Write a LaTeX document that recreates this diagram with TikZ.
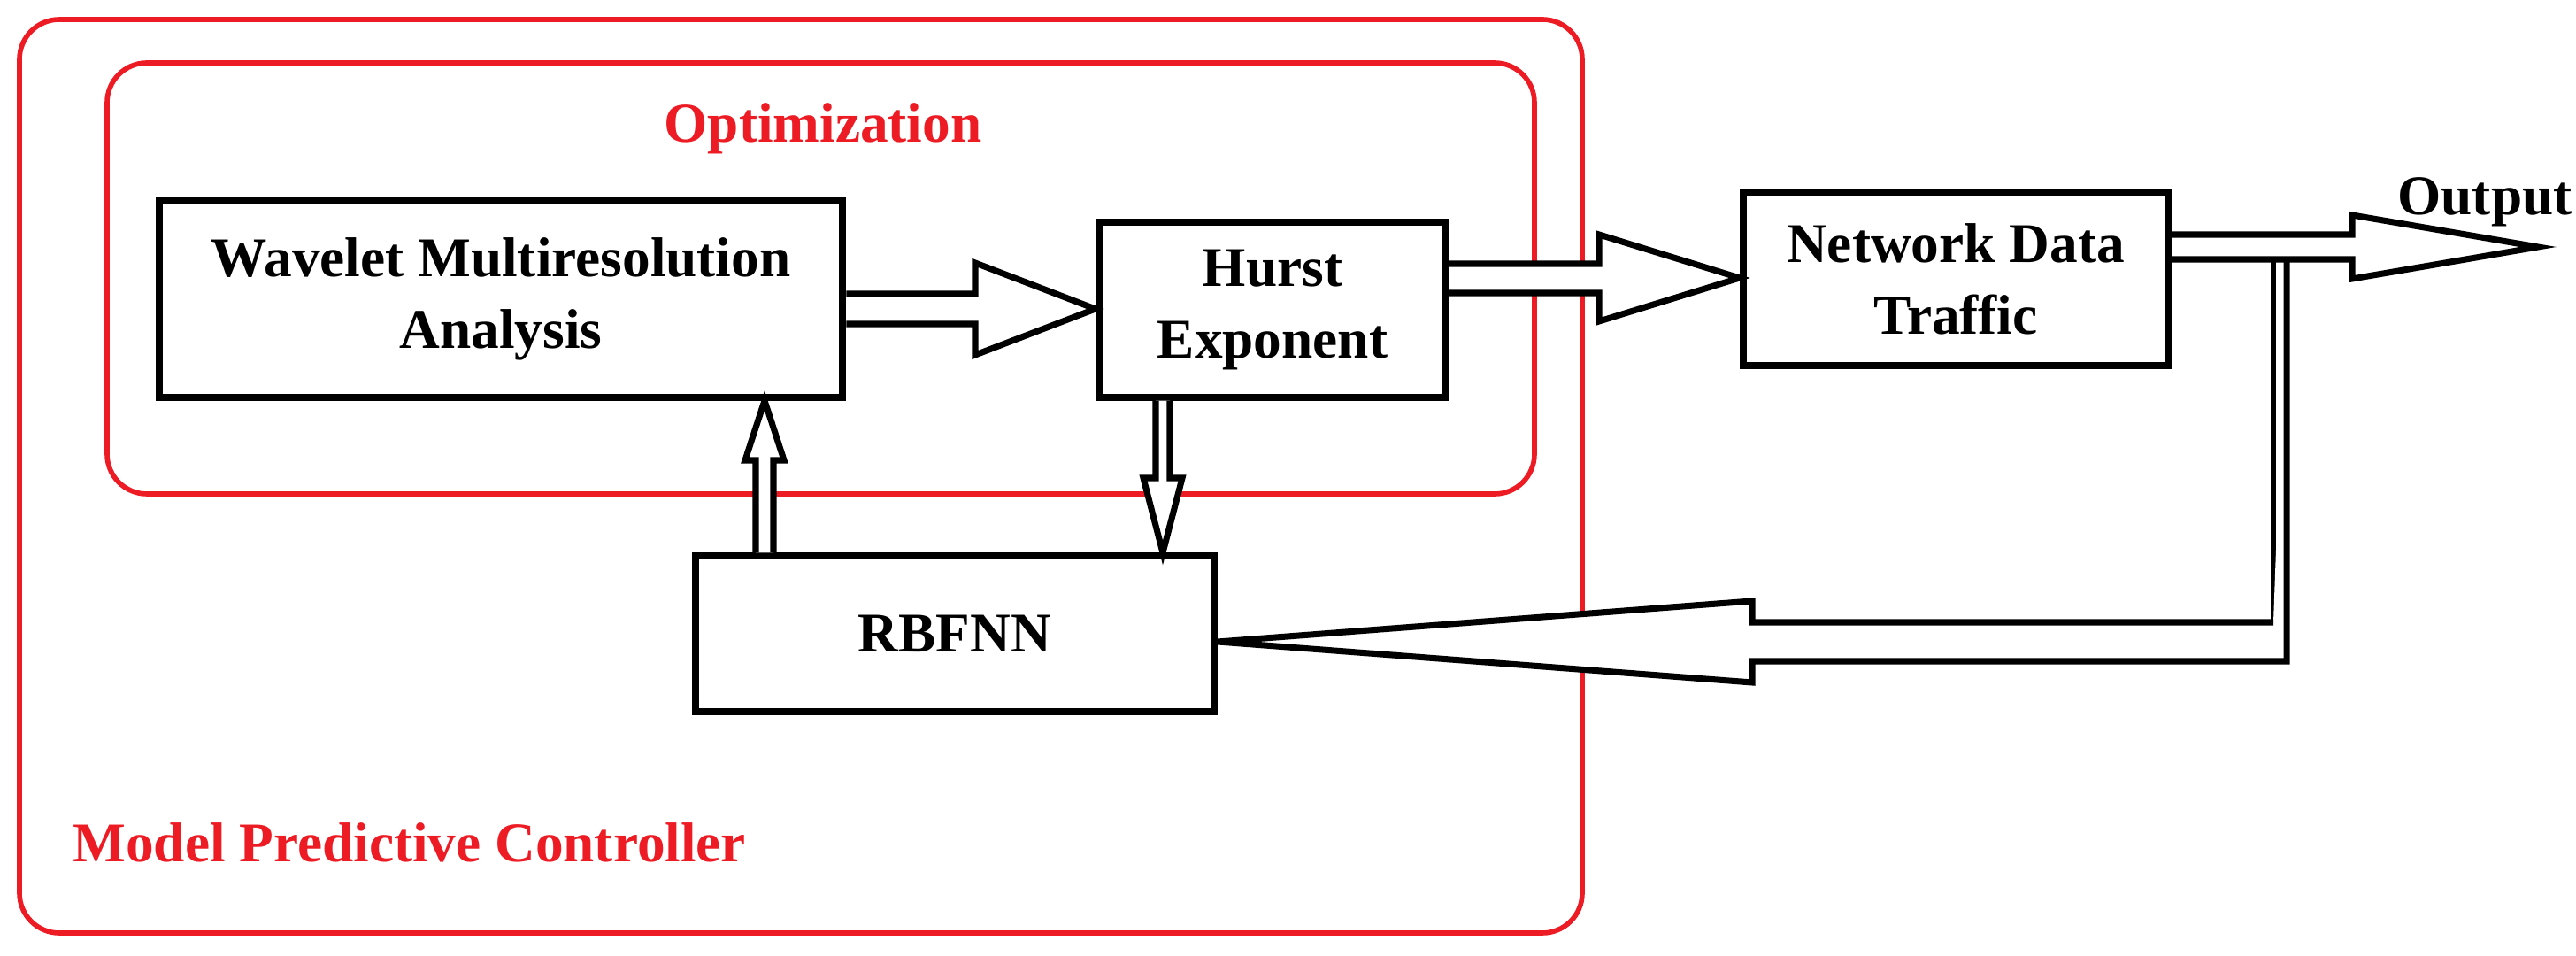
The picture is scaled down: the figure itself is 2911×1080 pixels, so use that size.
\documentclass[tikz,border=0pt]{standalone}
\usepackage{fontspec}
\setmainfont{Liberation Serif}
\begin{document}
\begin{tikzpicture}[x=0.01cm,y=-0.01cm,
  blk/.style={draw=black,line width=2.3pt,fill=white,inner sep=0pt,font=\fontsize{18}{23}\selectfont\bfseries,align=center},
  redbox/.style={draw=red,line width=1.6pt,rounded corners=0.45cm},
  red/.style={text=red,font=\fontsize{18}{22}\selectfont\bfseries},
  harrow/.style={draw=black,line width=2pt,fill=white,line join=miter}]
\useasboundingbox (0,0) rectangle (2911,1080);
\definecolor{red}{RGB}{237,28,36}
\draw[redbox] (22,22) rectangle (1788,1054);
\draw[redbox] (121,71) rectangle (1734,558);
\node[red] (opt) at (930,145) {Optimization};
\node[red,anchor=west] (mpc) at (70,952) {Model Predictive Controller};
\node[blk,minimum width=7.72cm,minimum height=2.21cm] (wma) at (566,338) {Wavelet Multiresolution\\Analysis};
\node[blk,minimum width=3.92cm,minimum height=1.97cm] (hurst) at (1438,350) {Hurst\\Exponent};
\node[blk,minimum width=4.8cm,minimum height=1.96cm] (ndt) at (2210,315) {Network Data\\Traffic};
\node[blk,minimum width=5.86cm,minimum height=1.75cm] (rbf) at (1079,716) {RBFNN};
\node[font=\fontsize{18}{22}\selectfont\bfseries] (out) at (2808,228) {Output};
% Wavelet -> Hurst
\draw[harrow] (wma.east |- 0,332) -- (1102,332) -- (1102,297) -- (hurst.west |- 0,349) -- (1102,401) -- (1102,366) -- (wma.east |- 0,366);
% Hurst -> Network
\draw[harrow] (hurst.east |- 0,298) -- (1807,298) -- (1807,265) -- (ndt.west |- 0,314) -- (1807,363) -- (1807,331) -- (hurst.east |- 0,331);
% Output
\draw[harrow] (ndt.east |- 0,265) -- (2658,265) -- (2658,243) -- (2868,279) -- (2658,315) -- (2658,293) -- (ndt.east |- 0,293);
% Feedback
\draw[black,line width=1.5pt] (2569,293) -- (2569,703);
\draw[harrow] (2584,293) -- (2584,747) -- (1980,747) -- (1980,771) -- (rbf.east |- 0,725) -- (1980,679) -- (1980,703) -- (2569,703);
% Up arrow RBFNN -> Wavelet
\draw[harrow] (854,0 |- rbf.north) -- (854,520) -- (842,520) -- (864,0 |- wma.south) -- (886,520) -- (874,520) -- (874,0 |- rbf.north);
% Down arrow Hurst -> RBFNN
\draw[harrow] (1306,0 |- hurst.south) -- (1306,540) -- (1292,540) -- (1314,0 |- rbf.north) -- (1336,540) -- (1322,540) -- (1322,0 |- hurst.south);
\end{tikzpicture}
\end{document}
